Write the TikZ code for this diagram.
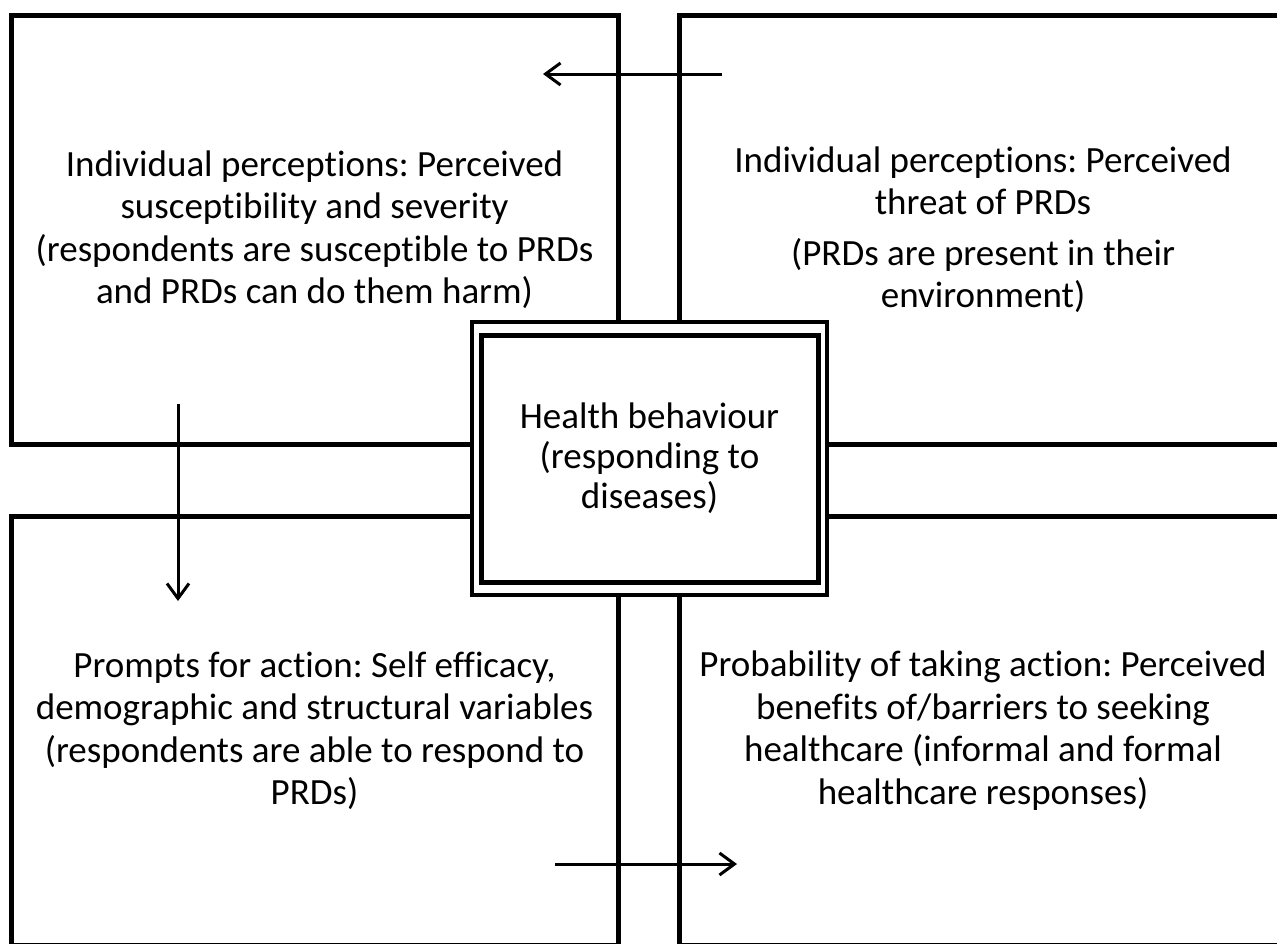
\documentclass[tikz,border=0pt]{standalone}
\usepackage{fontspec}
\setmainfont{Carlito}[Ligatures=CommonOff]
\usetikzlibrary{arrows.meta}
\frenchspacing

\begin{document}
\begin{tikzpicture}[x=1pt, y=-1pt,
    panel/.style = {draw, line width=5pt, minimum width=607pt, minimum height=429pt,
                    align=center, inner sep=0pt, font=\fontsize{37}{42.5}\selectfont},
    core/.style = {draw, fill=white, align=center, inner sep=0pt,
                   font=\fontsize{37}{40}\selectfont},
    flow/.style = {line width=3pt, -{Straight Barb[length=15pt, width=22pt]}}]
    \useasboundingbox (0,0) rectangle (1277,943);
    \clip (0,0) rectangle (1277,943);

    \node[panel] (threat) at (983,229.5) {Individual perceptions: Perceived\\ threat of PRDs\\[8pt] (PRDs are present in their\\ environment)};
    \node[panel] (suscept) at (314.5,229.5) {Individual perceptions: Perceived\\ susceptibility and severity\\ (respondents are susceptible to PRDs\\ and PRDs can do them harm)};
    \node[panel] (prompts) at (314.5,730.5) {Prompts for action: Self efficacy,\\ demographic and structural variables\\ (respondents are able to respond to\\ PRDs)};
    \node[panel] (prob) at (983,730.5) {Probability of taking action: Perceived\\ benefits of/barriers to seeking\\ healthcare (informal and formal\\ healthcare responses)};

    \node[core, line width=4pt, minimum width=355pt, minimum height=273pt] (behav) at (649.5,458.5) {};
    \node[core, line width=5pt, minimum width=337pt, minimum height=247pt] (behavin) at (649.5,458.5) {Health behaviour\\ (responding to\\ diseases)};

    \coordinate (a1) at (722,74);
    \coordinate (a2) at (543,74);
    \coordinate (b1) at (178,404);
    \coordinate (b2) at (178,601);
    \coordinate (c1) at (555,864);
    \coordinate (c2) at (737,864);

    \draw[flow] (a1) -- (a2);
    \draw[flow] (b1) -- (b2);
    \draw[flow] (c1) -- (c2);
\end{tikzpicture}
\end{document}
